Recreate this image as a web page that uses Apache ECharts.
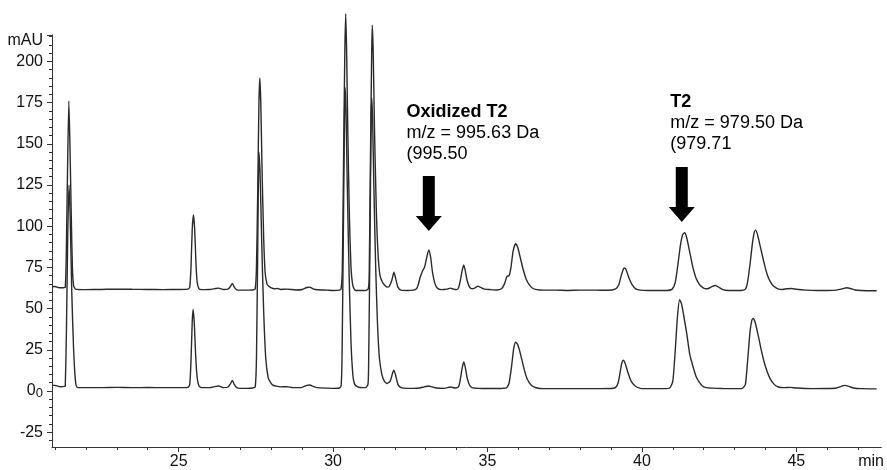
<!DOCTYPE html>
<html><head><meta charset="utf-8">
<script src="https://cdn.jsdelivr.net/npm/echarts@6/dist/echarts.min.js"></script>
<style>html,body{margin:0;padding:0;background:#fff}#c{width:887px;height:470px}</style>
</head><body><div id="c"></div><script>
// Upper chromatogram trace [time (min), absorbance (mAU)]
const traceTop = [
 [20.9,63.2],[21.0,63.4],[21.1,62.8],[21.2,62.6],[21.3,62.7],
 [21.33,63],[21.36,80],[21.40,130],[21.445,176],[21.48,150],[21.52,110],[21.56,75],[21.60,64],[21.66,61.8],
 [22.0,61.5],[22.5,61.6],[23.0,61.8],[23.5,61.7],[24.0,61.6],[24.5,61.5],[25.0,61.6],[25.3,61.8],
 [25.36,63],[25.40,75],[25.44,98],[25.48,107],[25.52,98],[25.56,78],[25.60,66],[25.66,62],[25.75,61.5],
 [26.0,61.6],[26.2,62.2],[26.3,62.4],[26.45,61.6],[26.6,61.8],[26.68,63.5],[26.74,65.3],[26.8,63],[26.88,61.4],
 [27.0,61.2],[27.2,61.2],[27.4,61.3],[27.48,62],
 [27.52,75],[27.56,120],[27.60,175],[27.63,190],[27.66,175],[27.70,135],[27.75,95],[27.80,72],[27.86,65],[27.92,63.5],
 [28.0,62.5],[28.1,62],[28.2,62.2],[28.3,61.6],[28.5,61.8],[28.8,61.3],[29.0,61.6],[29.15,62.8],[29.25,63],[29.35,62],
 [29.5,61.4],[29.8,61.2],[30.0,61],[30.2,61.2],[30.26,62],
 [30.30,75],[30.34,140],[30.38,205],[30.41,229],[30.44,205],[30.48,155],[30.53,105],[30.58,75],[30.63,65],[30.68,62],
 [30.75,61],[30.9,61],[31.05,61],[31.14,62],
 [31.17,70],[31.21,140],[31.25,205],[31.27,222],[31.30,205],[31.34,160],[31.40,110],[31.46,82],[31.52,70],[31.60,66],
 [31.68,64],[31.76,63],[31.82,63.5],[31.9,67],[31.97,72],[32.03,68],[32.1,63],[32.2,61.2],[32.4,61],[32.6,61.2],[32.7,62],
 [32.75,64],[32.82,69],[32.9,73],[32.96,75],[33.02,80],[33.1,85.6],[33.16,81],[33.22,72],[33.3,65],[33.38,62.3],
 [33.5,61.5],[33.7,61.8],[33.8,62.4],[33.9,61.8],[34.0,61.5],[34.06,62.5],
 [34.12,67],[34.18,73],[34.23,76.4],[34.28,73],[34.34,67],[34.42,63],[34.5,62],[34.6,62.6],[34.69,63.6],[34.78,62.8],
 [34.9,61.8],[35.1,61.5],[35.3,61.3],[35.45,62],[35.55,65],[35.63,69.5],[35.7,70],[35.76,75],[35.83,85],[35.91,89.4],
 [35.98,87],[36.06,81],[36.15,74],[36.25,68],[36.35,64.5],[36.45,62.5],[36.6,61.5],[36.8,61.2],[37.2,61.2],[37.6,61],
 [38.0,61.2],[38.5,61.2],[38.9,61.1],[39.15,62],[39.25,64.5],[39.33,70],[39.4,74],[39.44,74.6],[39.5,73],[39.58,68.5],
 [39.68,64.5],[39.8,62],[39.95,61.2],[40.2,61],[40.5,61],[40.8,61],[40.98,61.8],
 [41.08,66],[41.16,76],[41.25,89],[41.32,95],[41.38,96],[41.45,93],[41.55,84],[41.65,75],[41.75,68.5],[41.85,65],
 [41.95,63],[42.06,62],[42.15,62.2],[42.25,63.2],[42.38,64],[42.5,62.8],[42.62,61.5],[42.8,61],[43.0,61],[43.2,61],[43.35,61.8],
 [43.42,66],[43.5,77],[43.58,90],[43.64,96.5],[43.68,97.6],[43.74,95],[43.84,87],[43.95,78],[44.05,71],[44.15,66.5],
 [44.27,63.5],[44.4,62],[44.55,61.6],[44.7,62],[44.85,62.2],[45.0,61.7],[45.3,61.2],[45.7,61],[46.0,61],[46.3,61.2],
 [46.5,62],[46.62,62.6],[46.75,62.2],[46.9,61.3],[47.1,61],[47.4,60.8],[47.6,60.8]
];
// Lower chromatogram trace [time (min), absorbance (mAU)]
const traceBottom = [
 [20.9,3.4],[21.0,3.4],[21.1,2.8],[21.2,2.6],[21.3,2.8],
 [21.33,3],[21.37,40],[21.41,95],[21.45,125],[21.49,105],[21.54,60],[21.6,25],[21.66,6],[21.72,2.2],
 [22.0,2],[22.5,2],[23.0,2.2],[23.5,2],[24.0,2.1],[24.5,2],[25.0,2],[25.3,2.2],
 [25.36,4],[25.40,18],[25.44,42],[25.47,49.4],[25.51,40],[25.55,22],[25.6,8],[25.66,3],[25.75,2],
 [26.0,2],[26.2,2.8],[26.3,3],[26.45,2],[26.6,2.4],[26.68,4.5],[26.74,6.4],[26.8,4],[26.88,2],
 [27.0,1.6],[27.2,1.6],[27.4,1.8],[27.48,2.5],
 [27.52,20],[27.56,85],[27.6,145],[27.64,130],[27.69,90],[27.75,50],[27.82,20],[27.9,8],[27.98,5],[28.05,3.5],
 [28.15,3],[28.3,2.5],[28.5,2.6],[28.7,2],[29.0,2.2],[29.15,3.4],[29.25,3.6],[29.35,2.8],[29.5,2],[29.8,1.7],
 [30.0,1.6],[30.2,1.8],[30.26,3],
 [30.29,20],[30.33,90],[30.37,165],[30.39,184],[30.42,170],[30.46,125],[30.52,70],[30.58,30],[30.64,10],[30.7,4],
 [30.8,2.5],[30.95,2],[31.05,2],[31.13,4],
 [31.15,15],[31.19,80],[31.23,160],[31.25,178],[31.28,165],[31.32,125],[31.38,75],[31.44,40],[31.5,20],[31.58,10],
 [31.66,6],[31.75,4.5],[31.85,6],[31.93,11],[31.97,12.6],[32.02,10],[32.1,4],[32.2,2],[32.4,1.6],[32.6,1.6],
 [32.8,1.8],[32.95,2.5],[33.1,3],[33.2,2.5],[33.35,1.8],[33.6,1.6],[33.8,2.4],[33.95,1.8],[34.06,2.5],
 [34.12,7],[34.18,14],[34.23,17.6],[34.28,14.5],[34.34,8],[34.42,3.5],[34.5,2],[34.7,1.6],[35.0,1.5],[35.3,1.5],
 [35.5,1.6],[35.62,2],[35.7,5],[35.78,15],[35.85,26],[35.91,29.6],[35.98,28],[36.06,23],[36.15,16],[36.25,9],
 [36.35,5],[36.45,3],[36.6,1.8],[36.8,1.4],[37.5,1.4],[38.0,1.4],[38.5,1.4],[39.0,1.5],[39.15,2.2],[39.23,5],
 [39.3,12],[39.35,17],[39.4,18.6],[39.46,16.5],[39.55,11],[39.65,6],[39.78,3],[39.95,1.6],[40.3,1.4],[40.7,1.4],
 [40.9,1.8],[41.0,6],[41.08,25],[41.15,45],[41.22,55.4],[41.28,53],[41.36,45],[41.45,35],[41.55,22],[41.65,15],
 [41.75,9],[41.85,5.5],[41.95,3.2],[42.05,2.2],[42.3,1.7],[42.6,1.5],[43.0,1.4],[43.25,1.6],[43.35,4],[43.42,18],
 [43.5,36],[43.56,43],[43.6,44],[43.66,42],[43.75,35],[43.85,26],[43.95,18],[44.05,12],[44.15,7.5],[44.28,4],
 [44.42,2.4],[44.6,2],[44.8,2.2],[45.0,1.8],[45.5,1.4],[46.0,1.5],[46.3,1.8],[46.45,2.8],[46.56,3.4],[46.7,2.8],
 [46.85,1.8],[47.1,1.4],[47.6,1.3]
];
const xLabelValues = [25, 30, 35, 40, 45];
const xMinorTicks = [21,22,23,24,25,26,27,28,29,30,31,32,33,34,35,36,37,38,39,40,41,42,43,44,45,46,47];
const yLabelValues = [-25, 0, 25, 50, 75, 100, 125, 150, 175, 200];
const yMinorTicks = [-30,-25,-20,-15,-10,-5,0,5,10,15,20,25,30,35,40,45,50,55,60,65,70,75,80,85,90,95,100,105,110,115,120,125,130,135,140,145,150,155,160,165,170,175,180,185,190,195,200,205,210,215];
const xUnit = 'min';
const yUnit = 'mAU';
// Annotations: arrow tip (t, v) and text top-left anchor (tt, tv)
const annotations = [
 { title: 'Oxidized T2', lines: ['m/z = 995.63 Da', '(995.50'], t: 33.1, v: 97, tt: 32.38, tv: 169.2 },
 { title: 'T2', lines: ['m/z = 979.50 Da', '(979.71'], t: 41.29, v: 102.5, tt: 40.92, tv: 175.2 }
];

const X_MIN = 20.9, X_MAX = 47.75, Y_MIN = -34, Y_MAX = 216;
const FONT = "'Liberation Sans', Arial, sans-serif";
const AX = '#333';

const chart = echarts.init(document.getElementById('c'), null, { renderer: 'canvas' });
chart.setOption({
  animation: false,
  backgroundColor: '#fff',
  grid: { left: 52, right: 2, top: 35, bottom: 18 },
  xAxis: [{
    type: 'value', min: X_MIN, max: X_MAX, position: 'bottom',
    axisLine: { show: true, onZero: false, lineStyle: { color: AX, width: 1 } },
    axisTick: { show: true, customValues: xLabelValues, length: 5, lineStyle: { color: AX } },
    axisLabel: { customValues: xLabelValues.concat([47.42]), formatter: v => v > 46 ? xUnit : String(v),
      fontSize: 16, color: '#111', fontFamily: FONT, margin: 7 },
    splitLine: { show: false }
  }, {
    type: 'value', min: X_MIN, max: X_MAX, position: 'bottom',
    axisLine: { show: false, onZero: false },
    axisTick: { show: true, customValues: xMinorTicks, length: 3, lineStyle: { color: AX } },
    axisLabel: { show: false }, splitLine: { show: false }
  }],
  yAxis: [{
    type: 'value', min: Y_MIN, max: Y_MAX, position: 'left',
    axisLine: { show: true, onZero: false, lineStyle: { color: AX, width: 1 } },
    axisTick: { show: true, customValues: yLabelValues.concat([Y_MAX]), length: 5, lineStyle: { color: AX } },
    axisLabel: { customValues: yLabelValues.concat([212.5]),
      formatter: v => v > 210 ? yUnit : (v === 0 ? '{z|0}{s|0}' : String(v)),
      rich: { z: { fontSize: 16, fontFamily: FONT, color: '#111' }, s: { fontSize: 13, fontFamily: FONT, color: '#111', padding: [4, 0, 0, 0] } },
      fontSize: 16, color: '#111', fontFamily: FONT, margin: 9 },
    splitLine: { show: false }
  }, {
    type: 'value', min: Y_MIN, max: Y_MAX, position: 'left',
    axisLine: { show: false, onZero: false },
    axisTick: { show: true, customValues: yMinorTicks, length: 3, lineStyle: { color: AX } },
    axisLabel: { show: false }, splitLine: { show: false }
  }],
  series: [
    { type: 'line', data: traceTop, xAxisIndex: 0, yAxisIndex: 0, symbol: 'none', clip: false, smooth: 0.2,
      lineStyle: { color: '#2a2a2a', width: 1.4 }, silent: true },
    { type: 'line', data: traceBottom, xAxisIndex: 0, yAxisIndex: 0, symbol: 'none', clip: false, smooth: 0.2,
      lineStyle: { color: '#2a2a2a', width: 1.4 }, silent: true }
  ]
});

const graphics = [];
annotations.forEach(a => {
  const tip = chart.convertToPixel({ gridIndex: 0 }, [a.t, a.v]);
  const txt = chart.convertToPixel({ gridIndex: 0 }, [a.tt, a.tv]);
  graphics.push({
    type: 'polygon', x: tip[0], y: tip[1],
    shape: { points: [[-6, -55], [6, -55], [6, -15], [13, -15], [0, 0], [-13, -15], [-6, -15]] },
    style: { fill: '#000' }, silent: true
  });
  graphics.push({ type: 'text', x: txt[0], y: txt[1],
    style: { text: a.title, font: 'bold 18px ' + FONT, fill: '#000', textAlign: 'left', textVerticalAlign: 'middle' } });
  a.lines.forEach((ln, i) => {
    graphics.push({ type: 'text', x: txt[0], y: txt[1] + 21 * (i + 1),
      style: { text: ln, font: '18px ' + FONT, fill: '#000', textAlign: 'left', textVerticalAlign: 'middle' } });
  });
});
chart.setOption({ graphic: graphics });
</script></body></html>
